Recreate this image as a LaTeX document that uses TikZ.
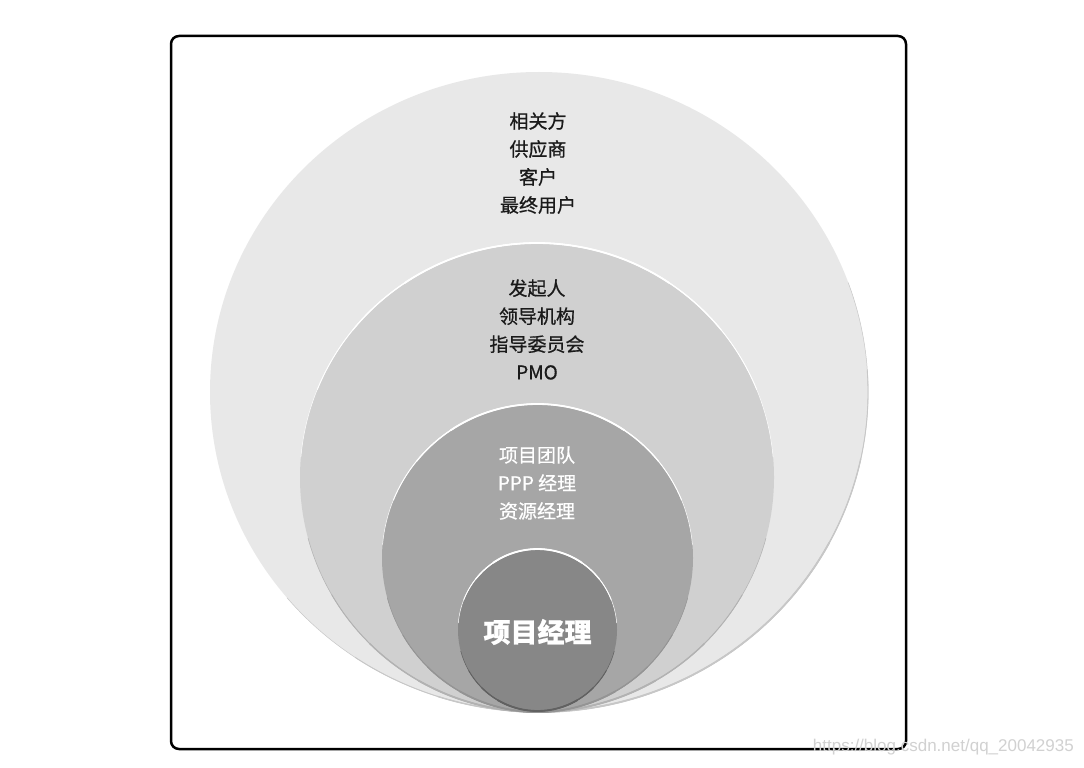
\documentclass[tikz,border=0pt]{standalone}
\usepackage{fontspec}
\newfontfamily\cjk[FakeBold=0.7]{Noto Sans CJK SC}
\newfontfamily\wm{Liberation Sans}
\definecolor{cA}{HTML}{E8E8E8}
\definecolor{cB}{HTML}{D0D0D0}
\definecolor{cC}{HTML}{A6A6A6}
\definecolor{cD}{HTML}{878787}
\definecolor{txt}{HTML}{1A1A1A}
\newcommand\taperarc[6]{% center, rx, ry, mid angle, half span, colour
  \foreach \k/\w in {1/0.5,0.8/0.9,0.6/1.3,0.4/1.8}{
    \draw[draw=#6,line width=\w pt] (#1) ++({#4-#5*\k}:#2 and #3)
      arc [start angle={#4-#5*\k}, end angle={#4+#5*\k}, x radius=#2, y radius=#3];
  }}
\begin{document}
\begin{tikzpicture}[x=1pt,y=-1pt,
  frame/.style={draw=black,line width=2.5pt,rounded corners=8pt},
  lbl/.style={align=center,inner sep=0pt,font=\cjk\fontsize{19}{28}\selectfont},
  dark/.style={lbl,text=txt},
  light/.style={lbl,text=white}]
\useasboundingbox (0,0) rectangle (1084,768);
\fill[white] (0,0) rectangle (1084,768);
\draw[frame] (171,36) rectangle (906,749);
% outer ellipse
\fill[cA] (539,392) ellipse [x radius=329, y radius=320];
\taperarc{539,392}{329}{320}{60}{80}{black!22}
% second
\fill[cB] (537,477.5) ellipse [x radius=237, y radius=234.5];
\taperarc{537,477.5}{237}{234.5}{270}{85}{white}
\taperarc{537,477.5}{237}{234.5}{90}{75}{black!30}
% third
\fill[cC] (537.5,558) ellipse [x radius=155.5, y radius=154];
\taperarc{537.5,558}{155.5}{154}{270}{85}{white}
\taperarc{537.5,558}{155.5}{154}{90}{75}{black!42}
% inner
\fill[cD] (537.5,630) ellipse [x radius=79.5, y radius=81];
\taperarc{537.5,630}{79.5}{81}{270}{85}{white}
\taperarc{537.5,630}{79.5}{81}{90}{75}{black!62}
% texts
\node[dark] (t1) at (538,163) {相关方\\供应商\\客户\\最终用户};
\node[dark] (t2) at (537,329.5) {发起人\\领导机构\\指导委员会\\PMO};
\node[light] (t3) at (537,483) {项目团队\\PPP 经理\\资源经理};
\node[light,font=\cjk\bfseries\fontsize{27}{32}\selectfont] (t4) at (537.5,632) {项目经理};
\node[text=black!18,font=\wm\fontsize{17}{20}\selectfont,inner sep=0pt,anchor=east] (wm) at (1074,747) {https://blog.csdn.net/qq\_20042935};
\end{tikzpicture}
\end{document}
